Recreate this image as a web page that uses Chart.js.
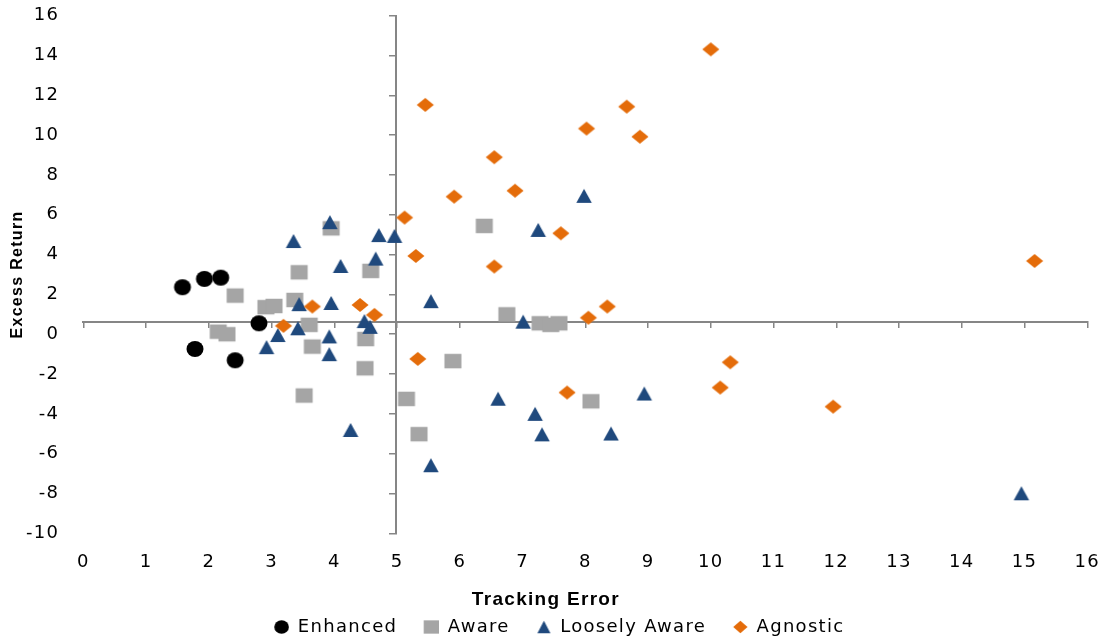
<!DOCTYPE html>
<html>
<head>
<meta charset="utf-8">
<script src="https://cdn.jsdelivr.net/npm/chart.js@4"></script>
<style>
html, body { margin: 0; padding: 0; background: #ffffff; }
canvas { display: block; }
</style>
</head>
<body>
<canvas id="chart" width="1107" height="644"></canvas>
<script>
// ---- data ----
const seriesNames = ['Enhanced', 'Aware', 'Loosely Aware', 'Agnostic'];

const enhancedX = [1.58, 1.93, 2.19, 1.78, 2.42, 2.80];
const enhancedY = [2.36, 2.78, 2.84, -0.74, -1.31, 0.55];

const awareX = [2.42, 2.15, 2.29, 2.91, 3.04, 3.44, 3.37, 3.60, 3.65, 3.95, 4.58, 4.50,
                4.49, 3.52, 5.15, 5.35, 6.39, 6.75, 7.28, 7.45, 7.58, 8.09, 5.89];
const awareY = [1.94, 0.13, 0.00, 1.36, 1.42, 3.11, 1.72, 0.47, -0.62, 5.32, 3.18, -0.24,
                -1.71, -3.08, -3.25, -5.02, 5.44, 1.00, 0.55, 0.47, 0.55, -3.37, -1.35];

const looselyX = [3.35, 3.93, 4.10, 4.71, 4.96, 4.66, 3.44, 3.95, 3.42, 3.10, 2.92, 3.92, 3.92, 4.48,
                  4.57, 4.26, 7.25, 5.54, 7.01, 7.98, 6.61, 7.20, 7.31, 8.41, 8.94, 5.54, 14.95];
const looselyY = [4.68, 5.63, 3.43, 4.98, 4.94, 3.80, 1.51, 1.57, 0.30, -0.04, -0.65, -0.11, -1.00, 0.66,
                  0.37, -4.81, 5.24, 1.66, 0.63, 6.95, -3.24, -4.00, -5.03, -4.99, -2.98, -6.58, -7.99];

const agnosticX = [3.19, 3.65, 4.41, 4.64, 5.45, 10.00, 8.66, 8.02, 8.87, 6.55, 6.88, 5.91,
                   5.12, 5.30, 7.61, 6.55, 8.35, 8.05, 5.33, 10.31, 10.15, 7.71, 11.95, 15.16];
const agnosticY = [0.42, 1.39, 1.47, 0.97, 11.52, 14.31, 11.43, 10.33, 9.92, 8.89, 7.21, 6.91,
                   5.86, 3.93, 5.07, 3.40, 1.39, 0.83, -1.24, -1.41, -2.68, -2.93, -3.64, 3.68];

const xAxisMin = 0, xAxisMax = 16, xTickStep = 1;
const yAxisMin = -10, yAxisMax = 16, yTickStep = 2;
const verticalAxisCrossX = 4.98;
const horizontalAxisCrossY = 0.62;
const xTitle = 'Tracking Error';
const yTitle = 'Excess Return';

// ---- styles ----
const seriesColors = ['#000000', '#A5A5A5', '#1F497D', '#E46C0A'];
const seriesShapes = ['circle', 'rect', 'triangle', 'diamond'];
const dataMarkerSizes = [[17, 16], [17, 14.5], [15.5, 14], [17, 14]];
const legendMarkerSizes = [[14.7, 13.3], [15.7, 13.3], [13, 12.7], [14.3, 12.7]];
const axisColor = '#868686';

function makeMarker(shape, w, h, color, cw, ch, cx, cy) {
  const c = document.createElement('canvas');
  c.width = cw; c.height = ch;
  const g = c.getContext('2d');
  g.fillStyle = color;
  g.beginPath();
  if (shape === 'circle') {
    g.ellipse(cx, cy, w / 2, h / 2, 0, 0, Math.PI * 2);
  } else if (shape === 'rect') {
    g.rect(cx - w / 2, cy - h / 2, w, h);
  } else if (shape === 'triangle') {
    g.moveTo(cx, cy - h / 2);
    g.lineTo(cx + w / 2, cy + h / 2);
    g.lineTo(cx - w / 2, cy + h / 2);
    g.closePath();
  } else {
    g.moveTo(cx, cy - h / 2);
    g.lineTo(cx + w / 2, cy);
    g.lineTo(cx, cy + h / 2);
    g.lineTo(cx - w / 2, cy);
    g.closePath();
  }
  g.fill();
  return c;
}

const dataMarkers = seriesShapes.map((s, i) =>
  makeMarker(s, dataMarkerSizes[i][0], dataMarkerSizes[i][1], seriesColors[i], 20, 20, 10, 10));
const legendMarkers = seriesShapes.map((s, i) =>
  makeMarker(s, legendMarkerSizes[i][0], legendMarkerSizes[i][1], seriesColors[i], 42, 18, 34.5, 9));

function toPoints(xs, ys) {
  return xs.map((x, i) => ({ x: x, y: ys[i] }));
}

const seriesX = [enhancedX, awareX, looselyX, agnosticX];
const seriesY = [enhancedY, awareY, looselyY, agnosticY];

const datasets = seriesNames.map((name, i) => ({
  label: name,
  data: toPoints(seriesX[i], seriesY[i]),
  xAxisID: 'x',
  yAxisID: 'y',
  pointStyle: dataMarkers[i],
  pointRadius: 8,
  pointHoverRadius: 8,
  backgroundColor: seriesColors[i],
  borderColor: seriesColors[i],
  showLine: false,
  order: seriesNames.length - i
}));

const spacingPlugin = {
  id: 'letterSpacing',
  beforeLayout(chart) { chart.ctx.letterSpacing = '1.3px'; },
  beforeDraw(chart) { chart.ctx.letterSpacing = '1.3px'; }
};

const tickFont = { family: 'DejaVu Sans', size: 18 };

new Chart(document.getElementById('chart'), {
  type: 'scatter',
  data: { datasets: datasets },
  plugins: [spacingPlugin],
  options: {
    responsive: false,
    animation: false,
    events: [],
    layout: { padding: { top: 15.7, right: 19.7, bottom: 0, left: 4.5 } },
    scales: {
      x: {
        type: 'linear', position: 'bottom',
        min: xAxisMin, max: xAxisMax,
        ticks: { stepSize: xTickStep, font: tickFont, color: '#000', padding: 0, maxRotation: 0 },
        grid: { display: false, drawTicks: true, tickLength: 18.5 },
        border: { display: false },
        afterFit(scale) { scale.height = 54; }
      },
      y: {
        type: 'linear', position: 'left',
        min: yAxisMin, max: yAxisMax,
        ticks: { stepSize: yTickStep, font: tickFont, color: '#000', padding: 0 },
        grid: { display: false, drawTicks: true, tickLength: 24 },
        border: { display: false },
        title: {
          display: true, text: yTitle, color: '#000',
          font: { family: 'Liberation Sans', size: 16, weight: 'bold' },
          padding: { top: 3.5, bottom: 4 }
        },
        afterFit(scale) { scale.width = 78.8; }
      },
      x2: {
        type: 'linear', axis: 'x',
        position: { y: horizontalAxisCrossY },
        min: xAxisMin, max: xAxisMax,
        ticks: { display: false, stepSize: xTickStep },
        grid: { display: true, drawOnChartArea: false, drawTicks: true, tickLength: 5,
                color: axisColor, lineWidth: 1.5 },
        border: { display: true, color: axisColor, width: 2 }
      },
      y2: {
        type: 'linear', axis: 'y',
        position: { x: verticalAxisCrossX },
        min: yAxisMin, max: yAxisMax,
        ticks: { display: false, stepSize: yTickStep },
        grid: { display: true, drawOnChartArea: false, drawTicks: true, tickLength: 6,
                color: axisColor, lineWidth: 1.5 },
        border: { display: true, color: axisColor, width: 2 }
      }
    },
    plugins: {
      tooltip: { enabled: false },
      title: {
        display: true, text: xTitle, position: 'bottom', weight: 500,
        color: '#000',
        font: { family: 'Liberation Sans', size: 19, weight: 'bold' },
        padding: { top: 1, bottom: 6.9 }
      },
      legend: {
        display: true, position: 'bottom', maxHeight: 26,
        labels: {
          usePointStyle: true,
          pointStyleWidth: 41.5,
          padding: 0,
          color: '#000',
          font: { family: 'DejaVu Sans', size: 18 },
          sort: (a, b) => a.datasetIndex - b.datasetIndex,
          generateLabels(chart) {
            const items = Chart.defaults.plugins.legend.labels.generateLabels(chart);
            items.forEach(it => { it.pointStyle = legendMarkers[it.datasetIndex]; });
            return items;
          }
        }
      }
    }
  }
});
</script>
</body>
</html>
